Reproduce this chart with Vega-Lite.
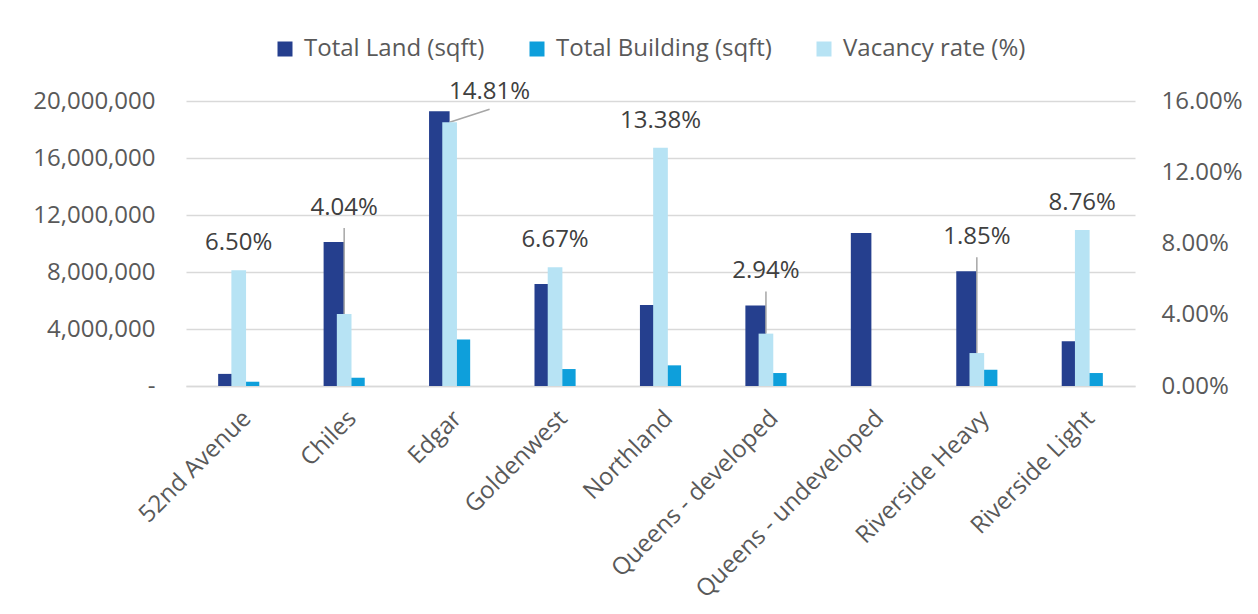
{
  "$schema": "https://vega.github.io/schema/vega-lite/v6.json",
  "width": 949,
  "height": 285,
  "autosize": "none",
  "padding": {"left": 186, "top": 101, "right": 123, "bottom": 228},
  "background": "white",
  "config": {
    "view": {"stroke": null},
    "font": "Open Sans",
    "axis": {"labelFont": "Open Sans", "labelColor": "#595959", "labelFontSize": 24, "labelLimit": 600, "title": null, "ticks": false}
  },
  "data": {
    "values": [
      {"site": "52nd Avenue", "land": 850000, "building": 300000, "vacancy": 0.065},
      {"site": "Chiles", "land": 10100000, "building": 580000, "vacancy": 0.0404},
      {"site": "Edgar", "land": 19280000, "building": 3270000, "vacancy": 0.1481},
      {"site": "Goldenwest", "land": 7160000, "building": 1190000, "vacancy": 0.0667},
      {"site": "Northland", "land": 5680000, "building": 1450000, "vacancy": 0.1338},
      {"site": "Queens - developed", "land": 5650000, "building": 910000, "vacancy": 0.0294},
      {"site": "Queens - undeveloped", "land": 10740000, "building": null, "vacancy": null},
      {"site": "Riverside Heavy", "land": 8050000, "building": 1140000, "vacancy": 0.0185},
      {"site": "Riverside Light", "land": 3140000, "building": 910000, "vacancy": 0.0876}
    ]
  },
  "encoding": {
    "x": {
      "field": "site", "type": "nominal", "sort": null,
      "scale": {"paddingInner": 0.61, "paddingOuter": 0.305},
      "axis": {"labelAngle": -45, "labelPadding": 20, "domain": true, "domainColor": "#D9D9D9", "domainWidth": 1.5, "ticks": false, "grid": false}
    }
  },
  "layer": [
    {
      "layer": [
        {
          "transform": [{"fold": ["land", "building"], "as": ["series", "sqft"]}],
          "mark": {"type": "bar"},
          "encoding": {
            "xOffset": {"field": "series", "type": "nominal", "sort": ["land", "building"], "scale": {"paddingInner": 0, "paddingOuter": 0}},
            "y": {
              "field": "sqft", "type": "quantitative",
              "scale": {"domain": [0, 20000000], "nice": false, "zero": true},
              "axis": {
                "orient": "left", "values": [0, 4000000, 8000000, 12000000, 16000000, 20000000],
                "labelExpr": "datum.value == 0 ? '-\u2002\u00a0' : format(datum.value, ',')",
                "grid": true, "gridColor": "#D9D9D9", "gridWidth": 1.5, "domain": false, "labelPadding": 31
              }
            },
            "color": {
              "field": "series", "type": "nominal",
              "scale": {"domain": ["land", "building", "vacancy"], "range": ["#253F8E", "#0E9FDB", "#B7E3F4"]},
              "legend": {
                "orient": "none", "legendX": 87, "legendY": -64, "direction": "horizontal", "title": null,
                "symbolType": "square", "symbolSize": 225, "symbolStrokeWidth": 0,
                "labelFont": "Open Sans", "labelFontSize": 24, "labelColor": "#595959", "labelOffset": 7, "labelLimit": 600,
                "columnPadding": 40,
                "labelExpr": "datum.label == 'land' ? 'Total Land (sqft)' : datum.label == 'building' ? 'Total Building (sqft)' : 'Vacancy rate (%)'"
              }
            }
          }
        },
        {
          "transform": [
            {"filter": "datum.vacancy != null && datum.land / 125000000 > datum.vacancy && datum.land <= 18000000"},
            {"calculate": "datum.vacancy * 125000000", "as": "vac_sqft"}
          ],
          "mark": {"type": "rule", "color": "#A6A6A6", "strokeWidth": 1.5, "y2Offset": -14},
          "encoding": {
            "y": {"field": "vac_sqft", "type": "quantitative"},
            "y2": {"field": "land"}
          }
        },
        {
          "transform": [
            {"filter": "datum.vacancy != null && datum.land / 125000000 > datum.vacancy && datum.land > 18000000"},
            {"calculate": "datum.vacancy * 125000000", "as": "vac_sqft"}
          ],
          "mark": {"type": "rule", "color": "#A6A6A6", "strokeWidth": 1.5, "x2Offset": 40, "y2Offset": -2},
          "encoding": {
            "x": {"field": "site", "type": "nominal", "sort": null, "bandPosition": 0.5},
            "x2": {"field": "site", "bandPosition": 0.5},
            "y": {"field": "vac_sqft", "type": "quantitative"},
            "y2": {"field": "land"}
          }
        },
        {
          "transform": [{"filter": "datum.vacancy != null && datum.land / 125000000 > datum.vacancy && datum.land <= 18000000"}],
          "mark": {"type": "text", "dy": -34, "baseline": "middle", "font": "Open Sans", "fontSize": 24, "color": "#404040"},
          "encoding": {
            "y": {"field": "land", "type": "quantitative"},
            "text": {"field": "vacancy", "type": "quantitative", "format": ".2%"}
          }
        },
        {
          "transform": [{"filter": "datum.vacancy != null && datum.land / 125000000 > datum.vacancy && datum.land > 18000000"}],
          "mark": {"type": "text", "dx": 40, "dy": -19, "baseline": "middle", "font": "Open Sans", "fontSize": 24, "color": "#404040"},
          "encoding": {
            "y": {"field": "land", "type": "quantitative"},
            "text": {"field": "vacancy", "type": "quantitative", "format": ".2%"}
          }
        }
      ]
    },
    {
      "layer": [
        {
          "mark": {"type": "bar", "width": {"band": 0.357}},
          "encoding": {
            "y": {
              "field": "vacancy", "type": "quantitative",
              "scale": {"domain": [0, 0.16], "nice": false},
              "axis": {"orient": "right", "values": [0, 0.04, 0.08, 0.12, 0.16], "format": ".2%", "grid": false, "domain": false, "labelPadding": 26}
            },
            "color": {"datum": "vacancy"}
          }
        },
        {
          "transform": [{"filter": "datum.vacancy != null && datum.land / 125000000 <= datum.vacancy"}],
          "mark": {"type": "text", "dy": -27, "baseline": "middle", "font": "Open Sans", "fontSize": 24, "color": "#404040"},
          "encoding": {
            "y": {"field": "vacancy", "type": "quantitative"},
            "text": {"field": "vacancy", "type": "quantitative", "format": ".2%"}
          }
        }
      ]
    }
  ],
  "resolve": {"scale": {"y": "independent"}}
}
